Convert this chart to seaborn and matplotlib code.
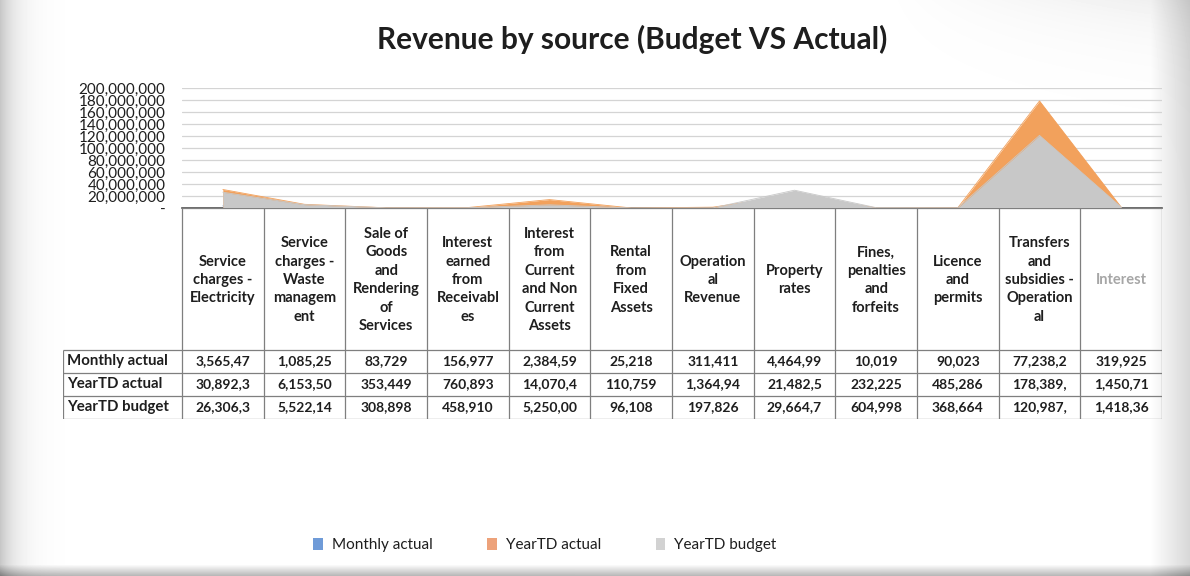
"""
Revenue by source (Budget VS Actual): area chart with a data table underneath.

Output:
    out.png
"""

import matplotlib

matplotlib.use("Agg")

import matplotlib.pyplot as plt
import numpy as np
import pandas as pd
import seaborn as sns
from matplotlib.patches import Patch
from matplotlib.ticker import FuncFormatter

W, H = 1190, 576

# Column headers, wrapped the way the table shows them
CATEGORIES = [
    "Service\ncharges -\nElectricity",
    "Service\ncharges -\nWaste\nmanagem\nent",
    "Sale of\nGoods\nand\nRendering\nof\nServices",
    "Interest\nearned\nfrom\nReceivabl\nes",
    "Interest\nfrom\nCurrent\nand Non\nCurrent\nAssets",
    "Rental\nfrom\nFixed\nAssets",
    "Operation\nal\nRevenue",
    "Property\nrates",
    "Fines,\npenalties\nand\nforfeits",
    "Licence\nand\npermits",
    "Transfers\nand\nsubsidies -\nOperation\nal",
    "Interest",
]
SERIES = ["Monthly actual", "YearTD actual", "YearTD budget"]

# last digits are cut off in the table, so they are estimates
MONTHLY_ACTUAL = [3_565_472, 1_085_254, 83_729, 156_977, 2_384_593, 25_218,
                  311_411, 4_464_995, 10_019, 90_023, 77_238_205, 319_925]
YTD_ACTUAL = [30_892_318, 6_153_502, 353_449, 760_893, 14_070_412, 110_759,
              1_364_946, 21_482_536, 232_225, 485_286, 178_389_412, 1_450_714]
YTD_BUDGET = [26_306_341, 5_522_148, 308_898, 458_910, 5_250_000, 96_108,
              197_826, 29_664_718, 604_998, 368_664, 120_987_356, 1_418_368]

Y_TICKS = list(range(0, 200_000_001, 20_000_000))

COLORS = {
    "Monthly actual": "#6f9bd8",
    "YearTD actual": "#f2a15c",
    "YearTD budget": "#c8c8c8",
}
LEGEND_COLORS = {
    "Monthly actual": "#6f9bd8",
    "YearTD actual": "#eda27a",
    "YearTD budget": "#d2d2d2",
}
TEXT = "#1e1e1e"
GRID = "#7f7f7f"


def fx(px):
    return px / W


def fy(py):
    return 1 - py / H


def cell_text(v):
    # the table column is too narrow, Excel cuts the number after 8 characters
    return f"{v:,.0f}"[:8]


def add_background(fig):
    bg = fig.add_axes([0, 0, 1, 1], zorder=-10)
    xx, yy = np.meshgrid(np.arange(W), np.arange(H))
    shade = np.ones((H, W))
    shade -= 0.22 * np.exp(-xx / 16.0)
    shade -= 0.16 * np.clip((xx - 1150) / 40.0, 0, 1)
    shade -= 0.30 * np.clip((yy - 564) / 12.0, 0, 1)
    shade -= 0.07 * np.exp(-yy / 40.0) * np.clip((xx - 880) / 310.0, 0, 1)
    bg.imshow(shade, cmap="gray", vmin=0, vmax=1, aspect="auto",
              interpolation="bilinear")
    bg.set_axis_off()


def draw_areas(fig, df):
    ax = fig.add_axes([fx(182), fy(208), fx(1162) - fx(182), fy(88) - fy(208)])
    ax.set_facecolor("none")

    # later series are painted over the earlier ones, like Excel's area chart
    for z, name in enumerate(SERIES):
        part = df[df["series"] == name]
        ax.fill_between(part["pos"], part["value"], color=COLORS[name],
                        lw=0, zorder=2 + z)
        sns.lineplot(data=part, x="pos", y="value", color=COLORS[name],
                     lw=0.6, ax=ax, zorder=2 + z)

    ax.set_xlim(-0.5, len(CATEGORIES) - 0.5)
    ax.set_ylim(0, 200_000_000)
    ax.set_yticks(Y_TICKS)
    ax.yaxis.set_major_formatter(
        FuncFormatter(lambda v, _: "-" if v == 0 else f"{v:,.0f}"))
    ax.tick_params(axis="y", labelsize=11, colors=TEXT, length=0, pad=12)
    ax.set_xticks([])
    ax.set_xlabel("")
    ax.set_ylabel("")
    ax.grid(axis="y", color="#d4d4d4", lw=0.9)
    ax.grid(axis="x", visible=False)
    for side in ["top", "right", "left"]:
        ax.spines[side].set_visible(False)
    ax.spines["bottom"].set_color("#555555")
    ax.spines["bottom"].set_linewidth(1.2)
    return ax


def draw_table(fig):
    left, right, top, bottom = 63, 1162, 208, 419
    ax = fig.add_axes([fx(left), fy(bottom), fx(right) - fx(left), fy(top) - fy(bottom)])
    ax.set_xlim(left, right)
    ax.set_ylim(bottom, top)
    ax.set_axis_off()

    col_edges = np.linspace(182, right, len(CATEGORIES) + 1)
    row_edges = [350, 373, 396, 419]

    for x in col_edges:
        ax.vlines(x, top, bottom, color=GRID, lw=0.9)
    ax.vlines(left, row_edges[0], bottom, color=GRID, lw=0.9)
    ax.hlines(top, col_edges[0], right, color=GRID, lw=0.9)
    for y in row_edges:
        ax.hlines(y, left, right, color=GRID, lw=0.9)

    for i, label in enumerate(CATEGORIES):
        cx = (col_edges[i] + col_edges[i + 1]) / 2
        color = "#a6a6a6" if label == "Interest" else TEXT
        ax.text(cx, (top + row_edges[0]) / 2 + 1, label, ha="center", va="center",
                multialignment="center", linespacing=1.4, fontsize=10.5,
                fontweight="bold", color=color)

    rows = [MONTHLY_ACTUAL, YTD_ACTUAL, YTD_BUDGET]
    for r, (name, values) in enumerate(zip(SERIES, rows)):
        cy = (row_edges[r] + row_edges[r + 1]) / 2
        ax.text(left + 4, cy, name, ha="left", va="center", fontsize=10.8,
                fontweight="bold", color=TEXT)
        for i, v in enumerate(values):
            cx = (col_edges[i] + col_edges[i + 1]) / 2
            ax.text(cx, cy, cell_text(v), ha="center", va="center",
                    fontsize=10, fontweight="bold", color=TEXT)


def main():
    sns.set_theme(style="white")
    plt.rcParams["font.family"] = ["Lato", "DejaVu Sans"]

    df = pd.DataFrame({
        "pos": np.tile(np.arange(len(CATEGORIES)), len(SERIES)),
        "series": np.repeat(SERIES, len(CATEGORIES)),
        "value": MONTHLY_ACTUAL + YTD_ACTUAL + YTD_BUDGET,
    })

    fig = plt.figure(figsize=(W / 100, H / 100), dpi=100)
    fig.patch.set_facecolor("white")
    add_background(fig)
    draw_areas(fig, df)
    draw_table(fig)

    fig.text(fx(632), fy(39), "Revenue by source (Budget VS Actual)",
             ha="center", va="center", fontsize=21.5, fontweight="bold", color=TEXT)

    handles = [Patch(facecolor=LEGEND_COLORS[s], edgecolor="none", label=s)
               for s in SERIES]
    fig.legend(handles=handles, loc="center", bbox_to_anchor=(fx(545), fy(545)),
               ncol=3, frameon=False, fontsize=11, handlelength=0.6,
               handleheight=0.8, handletextpad=0.6, columnspacing=3.6,
               labelcolor=TEXT)

    fig.savefig("out.png", dpi=100)
    plt.close(fig)


if __name__ == "__main__":
    main()
